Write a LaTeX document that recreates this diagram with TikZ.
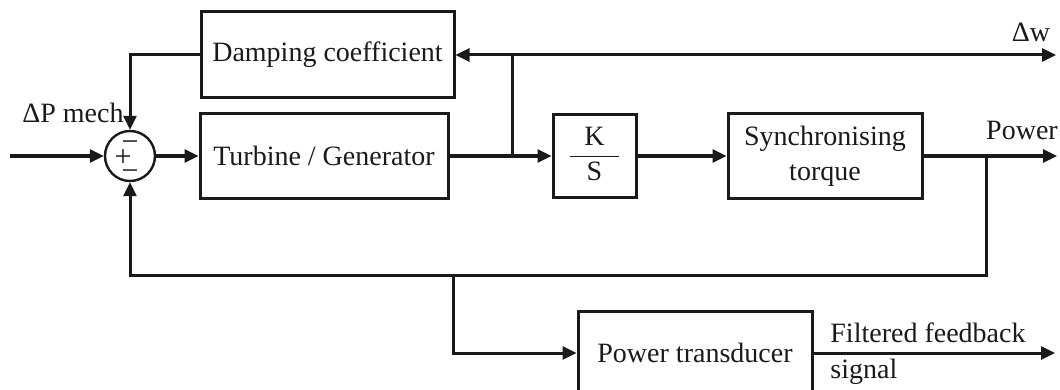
\documentclass[tikz,border=0pt]{standalone}
\usepackage{fontspec}
\setmainfont{Liberation Serif}
\usetikzlibrary{arrows.meta}
\definecolor{diagink}{HTML}{1A1A1A}
\newcommand{\signmark}[3]{%
  \node[diagink, font=\fontsize{15}{16}\selectfont, inner sep=0pt] (#1) at #2 {#3};
}

\begin{document}
\begin{tikzpicture}[x=0.5pt, y=-0.5pt,
  every node/.style={font=\fontsize{14}{17.5}\selectfont, text=diagink},
  blockbox/.style={draw=diagink, line width=1.5pt, inner sep=2pt, align=center},
  sumnode/.style={draw=diagink, line width=1.2pt, circle, minimum size=25pt, inner sep=0pt},
  sig/.style={draw=diagink, line width=1.5pt, ->},
  wire/.style={draw=diagink, line width=1.5pt},
  >={Triangle[length=7pt, width=6.5pt]}]

  \clip (0,0) rectangle (1060,390);

  \node[sumnode] (sum) at (130,156) {};
  \signmark{sgntop}{(130,146)}{−}
  \signmark{sgnmid}{(123,158)}{+}
  \signmark{sgnbot}{(130,175)}{−}

  \node[blockbox, minimum width=126.5pt, minimum height=43pt] (damp) at (327.5,55) {Damping coefficient};
  \node[blockbox, minimum width=124pt, minimum height=42pt] (turb) at (324,156) {Turbine / Generator};
  \node[blockbox, minimum width=41.5pt, minimum height=41.5pt] (ks) at (594.5,156)
    {{\setlength{\tabcolsep}{7pt}\begin{tabular}{c}K\\\hline S\end{tabular}}};
  \node[blockbox, minimum width=97pt, minimum height=42.5pt] (sync) at (825,156) {Synchronising\\torque};
  \node[blockbox, minimum width=117pt, minimum height=42pt] (trans) at (695,353) {Power transducer};

  \coordinate (inl) at (10,156);
  \coordinate (jw) at (512,156);
  \coordinate (jwt) at (512,55);
  \coordinate (wout) at (1056,55);
  \coordinate (jp) at (986,156);
  \coordinate (pout) at (1057,156);
  \coordinate (fbr) at (986,275);
  \coordinate (fbl) at (130,275);
  \coordinate (jt) at (453,275);
  \coordinate (fout) at (1055,353);

  \draw[sig] (inl) -- (sum.west);
  \draw[sig] (sum.east) -- (turb.west);
  \draw[sig] (turb.east) -- (ks.west);
  \draw[wire] (jw) -- (jwt);
  \draw[sig] (jwt) -- (damp.east);
  \draw[sig] (jwt) -- (wout);
  \draw[sig] (damp.west) -| (sum.north);
  \draw[sig] (ks.east) -- (sync.west);
  \draw[sig] (sync.east) -- (pout);
  \draw[sig] (jp) -- (fbr) -- (fbl) -- (sum.south);
  \draw[sig] (jt) |- (trans.west);
  \draw[sig] (trans.east) -- (fout);

  \node (dpm) at (73,113) {ΔP mech};
  \node (dw) at (1031,32) {Δw};
  \node (pw) at (1022,130) {Power};
  \node[anchor=west, inner sep=0pt] (ff) at (830,333) {Filtered feedback};
  \node[anchor=west, inner sep=0pt] (sg) at (830,372) {signal};

\end{tikzpicture}
\end{document}
